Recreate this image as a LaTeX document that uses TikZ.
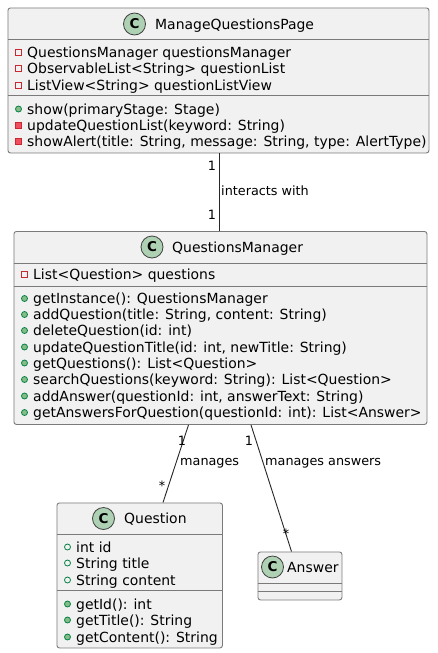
\documentclass[tikz,border=0pt]{standalone}
\usepackage{fontspec}
\setmainfont{DejaVu Sans}
\definecolor{boxfill}{HTML}{F1F1F1}
\definecolor{boxline}{HTML}{7A7A7A}
\definecolor{spotfill}{HTML}{ADD1B2}
\definecolor{pubc}{HTML}{038048}
\definecolor{pubf}{HTML}{84BE84}
\definecolor{privc}{HTML}{C82930}
\definecolor{privf}{HTML}{F24D5C}
\newcommand{\ftxt}{\fontsize{13.95}{16}\selectfont}
\tikzset{
  x=1pt,y=-1pt,
  classbox/.style={draw=boxline,fill=boxfill,line width=0.9pt,rounded corners=2.5pt,minimum width=#1,inner sep=0pt,anchor=north west},
  rowtext/.style={anchor=base west,inner sep=0pt,font=\ftxt,text=black},
  titletext/.style={anchor=base west,inner sep=0pt,font=\ftxt,text=black},
  spot/.style={circle,draw=black!75,line width=0.8pt,fill=spotfill,minimum size=22pt,inner sep=0pt,font=\fontsize{13.5}{14}\bfseries\selectfont},
  sep/.style={draw=boxline,line width=0.9pt},
  conn/.style={draw=black!85,line width=0.9pt},
  lbl/.style={inner sep=0pt,font=\fontsize{12.8}{15}\selectfont,text=black},
}
\newcommand{\pubattr}[3]{\draw[pubc,line width=0.8pt] (#1,#2) circle[radius=3];\node[rowtext] at (#1+8.5,#2+5) {#3};}
\newcommand{\pubmeth}[3]{\draw[pubc,fill=pubf,line width=0.8pt] (#1,#2) circle[radius=3];\node[rowtext] at (#1+8.5,#2+5) {#3};}
\newcommand{\privattr}[3]{\draw[privc,line width=0.8pt] (#1-3,#2-3) rectangle (#1+3,#2+3);\node[rowtext] at (#1+8.5,#2+5) {#3};}
\newcommand{\privmeth}[3]{\draw[privc,fill=privf,line width=0.8pt] (#1-3,#2-3) rectangle (#1+3,#2+3);\node[rowtext] at (#1+8.5,#2+5) {#3};}
\begin{document}
\begin{tikzpicture}
\useasboundingbox (0,0) rectangle (437,653);
\fill[white] (0,0) rectangle (437,653);
\node[classbox=421pt,minimum height=145pt] (mqp) at (7.5,7.5) {};
\node[classbox=413pt,minimum height=193pt] (qm) at (13.5,231) {};
\node[classbox=165.5pt,minimum height=145pt] (qq) at (56.5,502.5) {};
\node[classbox=84pt,minimum height=48pt] (ans) at (257.5,551.5) {};
\draw[conn] ([xshift=211.5pt]mqp.south west) -- ([xshift=205.5pt]qm.north west);
\draw[conn] ([xshift=175pt]qm.south west) -- ([xshift=106.5pt]qq.north west);
\draw[conn] ([xshift=237.5pt]qm.south west) -- ([xshift=34pt]ans.north west);
% ManageQuestionsPage
\node[spot] (s1) at (134.5,24) {C};
\node[titletext] (t1) at (155,29) {ManageQuestionsPage};
\draw[sep] (7.5,39) -- (428.5,39);
\draw[sep] (7.5,95.5) -- (428.5,95.5);
\privattr{18.5}{52}{QuestionsManager questionsManager}
\privattr{18.5}{68}{ObservableList<String> questionList}
\privattr{18.5}{85}{ListView<String> questionListView}
\pubmeth{18.5}{109}{show(primaryStage: Stage)}
\privmeth{18.5}{125}{updateQuestionList(keyword: String)}
\privmeth{18.5}{141}{showAlert(title: String, message: String, type: AlertType)}
% QuestionsManager
\node[spot] (s2) at (152,247) {C};
\node[titletext] (t2) at (172,252) {QuestionsManager};
\draw[sep] (13.5,263) -- (426.5,263);
\draw[sep] (13.5,286) -- (426.5,286);
\privattr{24.5}{274.5}{List<Question> questions}
\pubmeth{24.5}{298.5}{getInstance(): QuestionsManager}
\pubmeth{24.5}{314.5}{addQuestion(title: String, content: String)}
\pubmeth{24.5}{330.5}{deleteQuestion(id: int)}
\pubmeth{24.5}{347}{updateQuestionTitle(id: int, newTitle: String)}
\pubmeth{24.5}{363}{getQuestions(): List<Question>}
\pubmeth{24.5}{379.5}{searchQuestions(keyword: String): List<Question>}
\pubmeth{24.5}{396}{addAnswer(questionId: int, answerText: String)}
\pubmeth{24.5}{412.5}{getAnswersForQuestion(questionId: int): List<Answer>}
% Question
\node[spot] (s3) at (103.5,518.5) {C};
\node[titletext] (t3) at (124,523.5) {Question};
\draw[sep] (56.5,534.5) -- (222,534.5);
\draw[sep] (56.5,590.5) -- (222,590.5);
\pubattr{67.5}{547}{int id}
\pubattr{67.5}{563}{String title}
\pubattr{67.5}{580}{String content}
\pubmeth{67.5}{604}{getId(): int}
\pubmeth{67.5}{620}{getTitle(): String}
\pubmeth{67.5}{637}{getContent(): String}
% Answer
\node[spot] (s4) at (272.5,567) {C};
\node[titletext] (t4) at (287,572) {Answer};
\draw[sep] (257.5,583.5) -- (341.5,583.5);
\draw[sep] (257.5,591.5) -- (341.5,591.5);
% labels
\node[lbl] (l1) at (212,165.5) {1};
\node[lbl] (l2) at (212,214.5) {1};
\node[lbl,anchor=west] (l3) at (221,191) {interacts with};
\node[lbl] (l4) at (182,441) {1};
\node[lbl] (l5) at (162,486) {*};
\node[lbl,anchor=west] (l6) at (180,463.5) {manages};
\node[lbl] (l7) at (249,441) {1};
\node[lbl] (l8) at (286,534) {*};
\node[lbl,anchor=west] (l9) at (265,463.5) {manages answers};
\end{tikzpicture}
\end{document}
